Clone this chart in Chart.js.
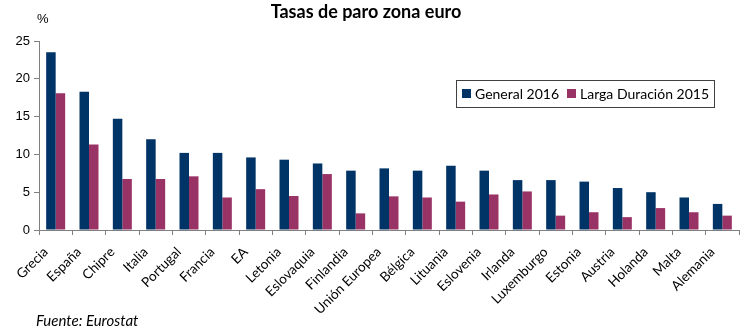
<!DOCTYPE html>
<html>
<head>
<meta charset="utf-8">
<script src="https://cdn.jsdelivr.net/npm/chart.js@4"></script>
<style>
  html, body { margin: 0; padding: 0; background: #fff; }
  #wrap { width: 750px; height: 331px; position: relative; }
</style>
</head>
<body>
<div id="wrap"><canvas id="chart" width="750" height="331"></canvas></div>
<script>
// Data
const countries = ['Grecia', 'España', 'Chipre', 'Italia', 'Portugal', 'Francia', 'EA', 'Letonia',
    'Eslovaquia', 'Finlandia', 'Unión Europea', 'Bélgica', 'Lituania', 'Eslovenia', 'Irlanda',
    'Luxemburgo', 'Estonia', 'Austria', 'Holanda', 'Malta', 'Alemania'];
const general2016 = [23.5, 18.3, 14.7, 12.0, 10.2, 10.2, 9.6, 9.3, 8.8, 7.85, 8.15, 7.85, 8.5, 7.85,
    6.6, 6.6, 6.4, 5.55, 5.0, 4.3, 3.45];
const largaDuracion2015 = [18.1, 11.3, 6.75, 6.75, 7.1, 4.3, 5.4, 4.5, 7.4, 2.2, 4.45, 4.3, 3.75, 4.7,
    5.1, 1.9, 2.35, 1.7, 2.9, 2.35, 1.9];
const yTicks = [0, 5, 10, 15, 20, 25];

const navy = '#003366';
const maroon = '#993366';

// Title, unit label, legend box and source note
const decorations = {
    id: 'decorations',
    afterDraw(chart) {
        const ctx = chart.ctx;
        ctx.save();
        ctx.fillStyle = '#000';
        ctx.textBaseline = 'alphabetic';

        ctx.font = 'bold 18px Lato';
        ctx.textAlign = 'center';
        ctx.fillText('Tasas de paro zona euro', 366, 18);

        ctx.font = '13px "Liberation Sans"';
        ctx.textAlign = 'left';
        ctx.fillText('%', 37, 23);

        // legend
        ctx.strokeStyle = '#404040';
        ctx.lineWidth = 1;
        ctx.strokeRect(456.5, 80.5, 258, 27);
        ctx.font = '14px Lato';
        const items = [[462, 475], [567, 580]];
        chart.data.datasets.forEach((ds, i) => {
            ctx.fillStyle = ds.backgroundColor;
            ctx.fillRect(items[i][0], 89, 9, 9);
            ctx.fillStyle = '#000';
            ctx.fillText(ds.label, items[i][1], 99);
        });

        ctx.font = 'italic 15px Lato';
        ctx.fillText('Fuente: Eurostat', 36, 326);
        ctx.restore();
    }
};

new Chart(document.getElementById('chart'), {
    type: 'bar',
    data: {
        labels: countries,
        datasets: [
            { label: 'General 2016', data: general2016, backgroundColor: navy },
            { label: 'Larga Duración 2015', data: largaDuracion2015, backgroundColor: maroon }
        ]
    },
    options: {
        responsive: false,
        animation: false,
        layout: { padding: { top: 41, right: 11, left: 0, bottom: 0 } },
        datasets: { bar: { barPercentage: 1, categoryPercentage: 0.57 } },
        plugins: {
            legend: { display: false },
            title: { display: false },
            tooltip: { enabled: false }
        },
        scales: {
            x: {
                afterFit: s => { s.height = 101; },
                grid: { offset: true, drawOnChartArea: false, tickLength: 5, color: '#808080' },
                border: { color: '#808080' },
                ticks: {
                    minRotation: 45, maxRotation: 45, autoSkip: false,
                    padding: 9, labelOffset: -10,
                    color: '#000', font: { family: 'Lato', size: 13.5 }
                }
            },
            y: {
                min: 0, max: 25,
                afterFit: s => { s.width = 39; },
                afterBuildTicks: s => { s.ticks = yTicks.map(v => ({ value: v })); },
                grid: { drawOnChartArea: false, tickLength: 5, color: '#808080' },
                border: { color: '#808080' },
                ticks: {
                    padding: 4, color: '#000',
                    font: { family: 'Liberation Sans', size: 13 }
                }
            }
        }
    },
    plugins: [decorations]
});
</script>
</body>
</html>
